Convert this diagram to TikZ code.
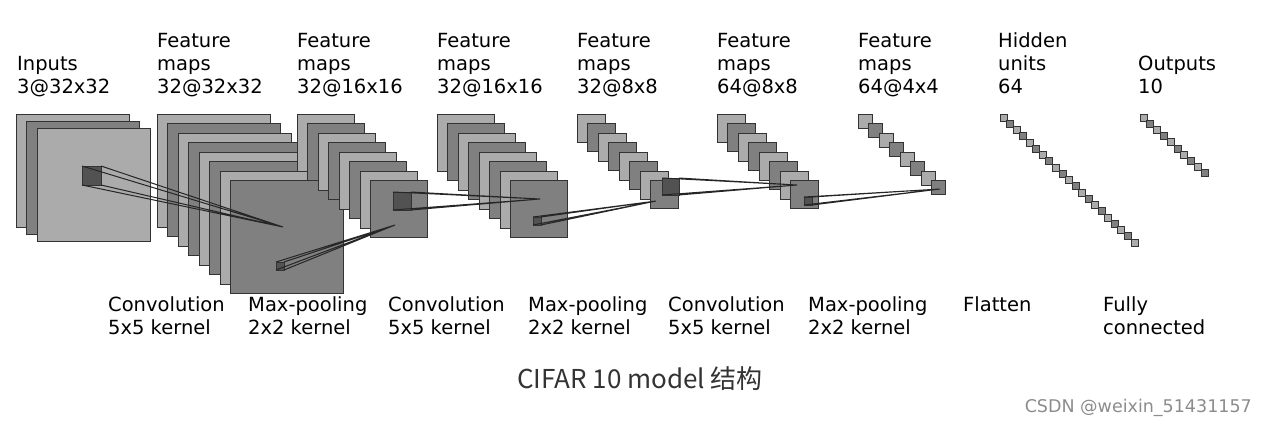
\documentclass[tikz,border=0pt]{standalone}
\usepackage{fontspec}
\setmainfont{DejaVu Sans}
\newfontfamily\cjk{Noto Sans CJK SC}
\usepackage{xcolor}
\colorlet{maplight}{black!33}
\colorlet{mapdark}{black!50}
\colorlet{patchdark}{black!68}
\tikzstyle{fmap}=[draw=black!80,line width=0.9pt]
\tikzstyle{ray}=[black!85,line width=1pt]
\tikzstyle{lbl}=[anchor=base west,align=left,inner sep=0pt,font=\fontsize{19.5}{23}\selectfont]
% stack of maps: name, x, y, size, count, dx, dy
\newcommand\fmaps[7]{{
  \foreach \i in {1,...,#5}{
    \pgfmathtruncatemacro\odd{mod(\i,2)}
    \ifnum\odd=1 \def\col{maplight}\else\def\col{mapdark}\fi
    \draw[fmap,fill=\col] ({#2+(\i-1)*#6},{#3+(\i-1)*#7}) rectangle +(#4,#4);
  }
}}
% kernel patch: x, y, size, target
\newcommand\patch[4]{{
  \draw[fmap,fill=patchdark] (#1,#2) rectangle +(#3,#3);
  \draw[ray] (#1,#2) -- (#4) (#1+#3,#2) -- (#4)
    (#1,#2+#3) -- (#4) (#1+#3,#2+#3) -- (#4);
}}

\begin{document}
\begin{tikzpicture}[x=1pt,y=-1pt]
  \useasboundingbox (0,0) rectangle (1266,424);

  % LAYERS
  \fmaps{in}{16}{114}{113}{3}{10.5}{7}
  \fmaps{c1}{157}{114}{113}{8}{10.5}{9.5}
  \fmaps{p1}{297}{114}{57}{8}{10.5}{9.5}
  \fmaps{c2}{437}{114}{57}{8}{10.5}{9.5}
  \fmaps{p2}{577}{114}{28}{8}{10.5}{9.5}
  \fmaps{c3}{717}{114}{28}{8}{10.5}{9.5}
  \fmaps{p3}{858}{114}{14}{8}{10.5}{9.5}
  \fmaps{fl}{1000}{114}{7}{21}{6.55}{6.25}
  \fmaps{fc}{1140}{114}{7}{10}{6.8}{6.2}

  % PATCHES
  \coordinate (T1) at (283,227);
  \coordinate (T2) at (395,225);
  \coordinate (T3) at (540,199);
  \coordinate (T4) at (656,201);
  \coordinate (T5) at (797,185);
  \coordinate (T6) at (940,189);
  \patch{82}{166}{19}{T1}
  \patch{276}{262}{8}{T2}
  \patch{393}{192}{18}{T3}
  \patch{533}{217}{8}{T4}
  \patch{662}{178}{17}{T5}
  \patch{804}{197}{8}{T6}

  % TOP LABELS
  \node[lbl] (tin) at (17,93) {Inputs\\3@32x32};
  \node[lbl] (tc1) at (157,93) {Feature\\maps\\32@32x32};
  \node[lbl] (tp1) at (297,93) {Feature\\maps\\32@16x16};
  \node[lbl] (tc2) at (437,93) {Feature\\maps\\32@16x16};
  \node[lbl] (tp2) at (577,93) {Feature\\maps\\32@8x8};
  \node[lbl] (tc3) at (717,93) {Feature\\maps\\64@8x8};
  \node[lbl] (tp3) at (858,93) {Feature\\maps\\64@4x4};
  \node[lbl] (tfl) at (998,93) {Hidden\\units\\64};
  \node[lbl] (tfc) at (1138,93) {Outputs\\10};

  % BOTTOM LABELS
  \node[lbl] (bc1) at (108,334) {Convolution\\5x5 kernel};
  \node[lbl] (bp1) at (248,334) {Max-pooling\\2x2 kernel};
  \node[lbl] (bc2) at (388,334) {Convolution\\5x5 kernel};
  \node[lbl] (bp2) at (528,334) {Max-pooling\\2x2 kernel};
  \node[lbl] (bc3) at (668,334) {Convolution\\5x5 kernel};
  \node[lbl] (bp3) at (808,334) {Max-pooling\\2x2 kernel};
  \node[lbl] (bfl) at (963,311) {Flatten};
  \node[lbl] (bfc) at (1103,334) {Fully\\connected};

  \node[anchor=base,inner sep=0pt,font=\cjk\fontsize{26}{29}\selectfont,black!80] (cap) at (640,388) {CIFAR 10 model 结构};
  \node[anchor=base east,inner sep=0pt,font=\fontsize{17.5}{20}\selectfont,black!45] (wm) at (1252,412) {CSDN @weixin\_51431157};
\end{tikzpicture}
\end{document}
